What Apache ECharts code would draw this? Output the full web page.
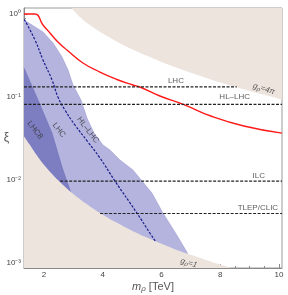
<!DOCTYPE html>
<html><head><meta charset="utf-8">
<script src="https://cdn.jsdelivr.net/npm/echarts@6/dist/echarts.min.js"></script>
<style>html,body{margin:0;padding:0;background:#fff}#c{width:288px;height:295px}</style>
</head><body><div id="c"></div>
<script>
// ---- axis ranges & ticks ----
const xMin = 1.32, xMax = 10.1;
const yMinXi = 0.000859, yMaxXi = 1.181;
const xTickValues = [2, 4, 6, 8, 10];
const xTickLabels = ['2', '4', '6', '8', '10'];
const xMinorTicks = [1.5, 2.5, 3, 3.5, 4.5, 5, 5.5, 6.5, 7, 7.5, 8.5, 9, 9.5];
const yTickValues = [0.001, 0.01, 0.1, 1];
const yTickLabels = ['10⁻³', '10⁻²', '10⁻¹', '10⁰'];
const yMinorMult = [2, 3, 4, 5, 6, 7, 8, 9];
const yMinorDecades = [0.0001, 0.001, 0.01, 0.1];

// ---- light (HL-LHC) band: right boundary ----
const bandM  = [1.32, 1.966, 2.306, 2.612, 2.816, 2.986, 3.258, 3.462, 3.700, 4.006, 4.244, 4.584, 5.026, 5.672, 6.046, 6.454, 6.862, 6.95];
const bandXi = [0.847, 0.607, 0.447, 0.303, 0.211, 0.139, 0.0916, 0.0555, 0.0366, 0.0262, 0.0228, 0.0173, 0.0131, 0.0069, 0.00396, 0.00234, 0.00134, 0.0011];

// ---- dark LHC8 band: right boundary ----
const lhc8M  = [1.32, 1.796, 2.272, 2.612, 2.884, 2.95];
const lhc8Xi = [0.223, 0.0916, 0.0366, 0.0142, 0.0075, 0.006];

// ---- navy dashed curve ----
const navyM  = [1.33, 1.694, 1.966, 2.272, 2.476, 2.714, 3.054, 3.496, 3.904, 4.414, 5.162, 5.604, 5.808];
const navyXi = [0.86, 0.485, 0.279, 0.160, 0.0995, 0.0693, 0.0457, 0.0285, 0.0183, 0.00965, 0.00396, 0.00227, 0.00177];

// ---- red curve ----
const redM  = [1.32, 1.694, 1.966, 2.204, 2.476, 2.782, 3.326, 3.904, 4.482, 5.026, 5.264, 5.944, 6.76, 7.678, 8.80, 10.1];
const redXi = [1, 1, 0.736, 0.590, 0.459, 0.367, 0.256, 0.199, 0.162, 0.139, 0.1315, 0.1023, 0.0807, 0.0587, 0.0445, 0.0365];

// ---- excluded region g_rho = 1 (below) ----
const g1M  = [1.32, 1.5, 1.75, 2, 2.25, 2.5, 2.75, 3, 3.5, 4, 4.5, 5, 5.5, 6, 6.5, 7, 7.5, 8, 8.5, 9, 10.1];
const g1Xi = [0.0335, 0.0269, 0.0198, 0.0151, 0.01195, 0.00968, 0.0080, 0.00672, 0.00494, 0.00378, 0.00299, 0.00242, 0.0020, 0.00168, 0.00143, 0.00124, 0.00108, 0.000946, 0.000838, 0.000747, 0.000593];

// ---- excluded region g_rho = 4pi (above) ----
const g4M  = [2.94, 3, 3.25, 3.5, 4, 4.5, 5, 5.5, 6, 6.5, 7, 7.5, 8, 8.5, 9, 9.5, 10.1];
const g4Xi = [1.181, 1.11, 0.90, 0.76, 0.58, 0.46, 0.375, 0.313, 0.264, 0.226, 0.195, 0.17, 0.149, 0.132, 0.118, 0.106, 0.0925];

// ---- horizontal dashed reach lines ----
const hlineNames = ['LHC', 'HL–LHC', 'ILC', 'TLEP/CLIC'];
const hlineXi    = [0.132, 0.081, 0.0096, 0.0039];
const hlineStart = [1.32, 1.32, 2.55, 3.91];
const hlineEnd   = [8.56, 10.1, 10.1, 10.1];

// ---- text annotations (data coords) ----
const annText = ['LHC', 'HL–LHC', 'ILC', 'TLEP/CLIC', 'LHC8', 'LHC', 'HL–LHC', '{g|g}{s|ρ}{t|=4π}', '{g|g}{s|ρ}{t|=1}'];
const annM    = [6.49, 8.49, 9.31, 9.28, 1.694, 2.51, 3.496, 9.48, 6.93];
const annXi   = [0.155, 0.0995, 0.01107, 0.00455, 0.0397, 0.0397, 0.0397, 0.1245, 0.000986];
const annRot  = [0, 0, 0, 0, -52, -52, -52, -17, -17];

const L = Math.log10;
const pts = (ms, xs) => ms.map((m, i) => [m, L(xs[i])]);
const yMinorVals = [];
yMinorDecades.forEach(d => yMinorMult.forEach(k => yMinorVals.push(L(k * d))));

const FONT = 'Liberation Sans';
const gray = '#8a8a8a';
const gridBox = {left: 24, right: 6, top: 8, bottom: 27, outerBoundsMode: 'none', containLabel: false};

const chart = echarts.init(document.getElementById('c'), null, {renderer: 'canvas'});
const series = [];
series.push({type: 'line', data: pts(bandM, bandXi), symbol: 'none', silent: true, z: 1,
  lineStyle: {width: 0.6, color: '#9a9ad0'}, areaStyle: {color: '#b4b4de', opacity: 1, origin: 'start'}});
series.push({type: 'line', data: pts(lhc8M, lhc8Xi), symbol: 'none', silent: true, z: 2,
  lineStyle: {width: 0.6, color: '#6e6eb8'}, areaStyle: {color: '#7d7dc2', opacity: 1, origin: 'start'}});
series.push({type: 'line', data: pts(g1M, g1Xi), symbol: 'none', smooth: true, silent: true, z: 3,
  lineStyle: {width: 0}, areaStyle: {color: '#ede4de', opacity: 1, origin: 'start'}});
series.push({type: 'line', data: pts(g4M, g4Xi), symbol: 'none', smooth: true, silent: true, z: 3,
  lineStyle: {width: 0}, areaStyle: {color: '#ede4de', opacity: 1, origin: 'end'}});
series.push({type: 'line', data: pts(navyM, navyXi), symbol: 'none', smooth: true, silent: true, z: 4,
  lineStyle: {width: 1.2, color: '#1c1c8a', type: [2.5, 1.5]}});
series.push({type: 'line', data: pts(redM, redXi), symbol: 'none', smooth: true, silent: true, z: 5,
  lineStyle: {width: 1.4, color: '#ff1a1a'}});
hlineNames.forEach((n, i) => {
  series.push({type: 'line', name: n, data: [[hlineStart[i], L(hlineXi[i])], [hlineEnd[i], L(hlineXi[i])]],
    symbol: 'none', silent: true, z: 6, lineStyle: {width: 1.1, color: '#222', type: [3, 1.5]}});
});
series.push({type: 'scatter', silent: true, z: 7, symbolSize: 1, itemStyle: {color: 'rgba(0,0,0,0)'},
  data: annText.map((t, i) => ({value: [annM[i], L(annXi[i])],
    label: {show: true, position: 'inside', formatter: t, rotate: annRot[i], fontFamily: FONT, fontSize: 8, color: '#333',
      rich: {g: {fontStyle: 'italic', fontSize: 8, color: '#333', fontFamily: FONT},
             s: {fontStyle: 'italic', fontSize: 6, color: '#333', fontFamily: FONT, padding: [4, 0, 0, 0]},
             t: {fontStyle: 'italic', fontSize: 8, color: '#333', fontFamily: FONT}}}}))});

const option = {
  animation: false,
  grid: [
    Object.assign({show: true, borderColor: '#9a9a9a', borderWidth: 1, backgroundColor: 'transparent'}, gridBox),
    Object.assign({show: false}, gridBox)
  ],
  xAxis: [
    {type: 'value', gridIndex: 0, min: xMin, max: xMax, position: 'bottom',
      name: '{i|m}{s|ρ} [TeV]', nameLocation: 'middle', nameGap: 12, nameMoveOverlap: false,
      nameTextStyle: {fontFamily: FONT, fontSize: 11, color: '#555',
        rich: {i: {fontStyle: 'italic', fontSize: 11, color: '#555', fontFamily: FONT},
               s: {fontStyle: 'italic', fontSize: 8, color: '#555', fontFamily: FONT, padding: [5, 0, 0, 0]}}},
      axisLine: {show: true, onZero: false, lineStyle: {color: gray}},
      axisTick: {show: true, inside: true, length: 4, lineStyle: {color: gray}, customValues: xTickValues},
      axisLabel: {show: true, customValues: xTickValues, fontFamily: FONT, fontSize: 8, color: '#444', margin: 3,
        formatter: v => xTickLabels[xTickValues.indexOf(Math.round(v))]},
      splitLine: {show: false}},
    {type: 'value', gridIndex: 1, min: xMin, max: xMax, position: 'bottom', axisLine: {show: false, onZero: false},
      axisTick: {show: true, inside: true, length: 2, lineStyle: {color: gray}, customValues: xMinorTicks},
      axisLabel: {show: false}, splitLine: {show: false}}
  ],
  yAxis: [
    {type: 'value', gridIndex: 0, min: L(yMinXi), max: L(yMaxXi), position: 'left',
      name: 'ξ', nameLocation: 'middle', nameGap: 15, nameRotate: 0, nameMoveOverlap: false,
      nameTextStyle: {fontFamily: FONT, fontSize: 12, color: '#555'},
      axisLine: {show: true, onZero: false, lineStyle: {color: gray}},
      axisTick: {show: true, inside: true, length: 4, lineStyle: {color: gray}, customValues: yTickValues.map(L)},
      axisLabel: {show: true, customValues: yTickValues.map(L), fontFamily: FONT, fontSize: 8, color: '#444', margin: 3,
        formatter: v => yTickLabels[yTickValues.map(L).findIndex(t => Math.abs(t - v) < 1e-6)]},
      splitLine: {show: false}},
    {type: 'value', gridIndex: 1, min: L(yMinXi), max: L(yMaxXi), position: 'left', axisLine: {show: false, onZero: false},
      axisTick: {show: true, inside: true, length: 2, lineStyle: {color: gray}, customValues: yMinorVals.filter(v => v > L(yMinXi) && v < L(yMaxXi))},
      axisLabel: {show: false}, splitLine: {show: false}}
  ],
  series: series
};
chart.setOption(option);
</script>
</body></html>
